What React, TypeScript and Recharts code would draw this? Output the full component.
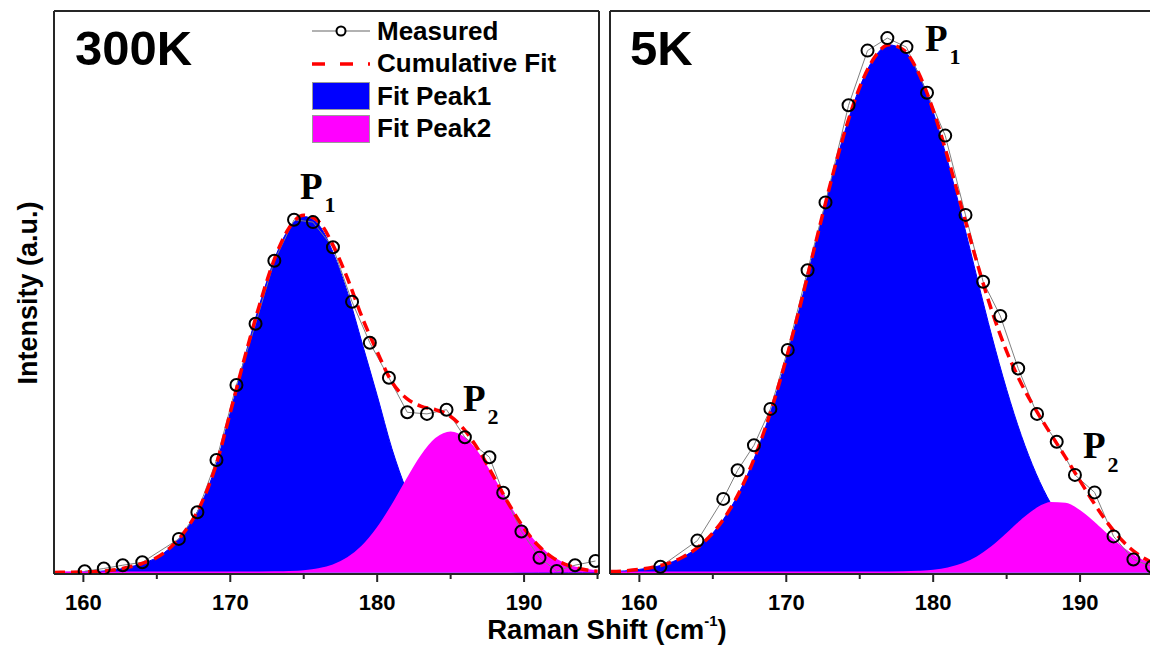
import React from 'react';
import { ComposedChart, Area, Line, XAxis, YAxis, Legend } from 'recharts';

const SANS = '"Liberation Sans", Arial, Helvetica, sans-serif';
const SERIF = '"Liberation Serif", "Times New Roman", serif';
const FRAME = '#262626';
const PEAK1_COLOR = '#0000ff';
const PEAK2_COLOR = '#ff00ff';
const FIT_COLOR = '#ff0000';
const MEASURED_LINE = '#808080';

// fitted curves, read every 1 cm-1
const shift = [
    158, 159, 160, 161, 162, 163, 164, 165, 166, 167, 168, 169, 170, 171, 172, 173, 174, 175, 176,
    177, 178, 179, 180, 181, 182, 183, 184, 185, 186, 187, 188, 189, 190, 191, 192, 193, 194, 195,
];

// 300K
const peak1_300K = [
    0.1, 0.2, 0.5, 1.1, 2.4, 5, 9, 15, 26, 43, 68, 106, 160, 216, 268, 313, 344, 356, 348,
    320, 279, 228, 177, 124, 82, 50, 29, 16, 8, 4, 2, 1, 0.4, 0.2, 0.1, 0, 0, 0,
];
const peak2_300K = [
    0, 0, 0, 0, 0, 0, 0, 0, 0, 0, 0, 0, 0, 0, 0.1, 0.2, 0.5, 1.3, 3.2,
    7.1, 14.3, 26.2, 43.8, 66.5, 92.1, 116.2, 133.6, 140, 133.6, 116.2, 92.1, 66.5, 43.8, 26.2, 14.3, 7.1, 3.2, 1.3,
];
const cumulative_300K = [
    0.1, 0.2, 0.5, 1.1, 2.4, 5, 9, 15, 26, 43, 68, 106, 160, 216, 268.1, 313.2, 344.5, 357.3, 351.2,
    327.1, 293.3, 254.2, 220.8, 190.5, 174.1, 166.2, 162.6, 156, 141.6, 120.2, 94.1, 67.5, 44.2, 26.4, 14.4, 7.1, 3.2, 1.3,
];
const measuredShift_300K = [
    160.09, 161.39, 162.68, 164.01, 166.5, 167.76, 169.06, 170.42, 171.72, 173.0, 174.34, 175.63, 176.99,
    178.29, 179.5, 180.8, 182.05, 183.39, 184.72, 185.97, 187.64, 188.58, 189.82, 191.05, 192.22, 193.47, 194.86,
];
const measured_300K = [
    1.3, 4, 7.3, 10.2, 33.6, 60.3, 112.5, 187.5, 248.7, 311.8, 352.7, 350.4, 325.2,
    270.7, 229.7, 194.7, 160.2, 158.6, 162.8, 135.2, 115.3, 79.8, 41, 14.7, 1.5, 7.3, 11.5,
];

// 5K
const peak1_5K = [
    0.9, 1.6, 3.1, 5.5, 9.4, 15.7, 25.4, 39.5, 59.4, 86.2, 121, 163.8, 214, 270, 329.7, 388.5, 441.7, 485.3, 514.9,
    527.6, 522.2, 499, 460.6, 410.6, 353.4, 293.8, 235.9, 183, 137, 99.1, 69.2, 46.7, 30.4, 19.1, 11.6, 6.8, 3.9, 2.1,
];
const peak2_5K = [
    0, 0, 0, 0, 0, 0, 0, 0, 0, 0, 0, 0, 0, 0, 0, 0, 0, 0, 0,
    0.1, 0.2, 0.7, 1.7, 4, 8.2, 15.2, 25.4, 38.2, 51.8, 63.2, 69.4, 68.7, 61.2, 49.1, 35.5, 23.1, 13.6, 7.2,
];
const cumulative_5K = [
    0.9, 1.6, 3.1, 5.5, 9.4, 15.7, 25.4, 39.5, 59.4, 86.2, 121, 163.8, 214, 270, 329.7, 388.5, 441.7, 485.3, 514.9,
    527.7, 522.4, 499.7, 462.3, 414.6, 361.6, 309, 261.3, 221.2, 188.8, 162.3, 138.6, 115.4, 91.6, 68.2, 47.1, 29.9, 17.5, 9.3,
];
const measuredShift_5K = [
    161.43, 163.95, 165.71, 166.69, 167.8, 168.92, 170.1, 171.45, 172.67, 174.24, 175.53, 176.88, 178.18,
    179.58, 180.82, 182.2, 183.4, 184.57, 185.79, 187.07, 188.41, 189.65, 190.99, 192.28, 193.63, 194.9,
];
const measured_5K = [
    5.7, 31.9, 73.6, 102.2, 127.2, 163.6, 222.6, 302.2, 370.1, 467.2, 521.9, 534.4, 525.4,
    479.7, 436.9, 357.6, 290.8, 256.5, 204, 158.6, 130.8, 97.6, 80.1, 36.1, 13, 6,
];

const shiftTicks = [160, 165, 170, 175, 180, 185, 190, 195];
const X_DOMAIN: [number, number] = [158, 195.1];
const Y_DOMAIN: [number, number] = [-1.5, 561.5];

const fitRows = (p1: number[], p2: number[], cum: number[]) =>
    shift.map((x, i) => ({ x, p1: p1[i], p2: p2[i], cum: cum[i] }));
const measuredRows = (xs: number[], ys: number[]) => xs.map((x, i) => ({ x, y: ys[i] }));

const legendItems = [
    { name: 'Measured', kind: 'measured' },
    { name: 'Cumulative Fit', kind: 'fit' },
    { name: 'Fit Peak1', kind: 'box', color: PEAK1_COLOR },
    { name: 'Fit Peak2', kind: 'box', color: PEAK2_COLOR },
];

function LegendContent() {
    return (
        <div style={{ fontFamily: SANS, fontWeight: 700, fontSize: 26, color: '#000' }}>
            {legendItems.map((item) => (
                <div key={item.name} style={{ display: 'flex', alignItems: 'center', height: 32.5 }}>
                    <svg width={58} height={30} style={{ marginRight: 7, flex: 'none' }}>
                        {item.kind === 'measured' && (
                            <>
                                <line x1={0} x2={58} y1={15} y2={15} stroke="#999" strokeWidth={1.5} />
                                <circle cx={29} cy={15} r={4.5} fill="#fff" stroke="#000" strokeWidth={2} />
                            </>
                        )}
                        {item.kind === 'fit' && (
                            <line x1={0} x2={58} y1={15} y2={15} stroke={FIT_COLOR} strokeWidth={3.5} strokeDasharray="13 15" />
                        )}
                        {item.kind === 'box' && (
                            <rect x={0.5} y={1.5} width={57} height={27} fill={item.color} stroke="#9a9a9a" strokeWidth={1} />
                        )}
                    </svg>
                    <span style={{ whiteSpace: 'nowrap' }}>{item.name}</span>
                </div>
            ))}
        </div>
    );
}

function ShiftTick(props: any) {
    const { x, y, payload } = props;
    const major = payload.value % 10 === 0;
    return (
        <g>
            <line x1={x} x2={x} y1={y} y2={y + (major ? 8 : 5)} stroke={FRAME} strokeWidth={2} />
            {major && (
                <text x={x} y={y + 35.5} textAnchor="middle" fontFamily={SANS} fontWeight={700} fontSize={22} fill="#000">
                    {payload.value}
                </text>
            )}
        </g>
    );
}

interface PanelProps {
    fit: { x: number; p1: number; p2: number; cum: number }[];
    measured: { x: number; y: number }[];
    showLegend?: boolean;
}

function Panel({ fit, measured, showLegend = false }: PanelProps) {
    const frame = { stroke: FRAME, strokeWidth: 2 };
    return (
        <ComposedChart width={600} height={647} data={fit} margin={{ top: 10, right: 0, bottom: 0, left: 53 }}>
            <XAxis
                dataKey="x"
                type="number"
                domain={X_DOMAIN}
                allowDataOverflow
                ticks={shiftTicks}
                interval={0}
                height={73}
                tickLine={false}
                tickSize={0}
                tickMargin={0}
                tick={(p: any) => <ShiftTick {...p} />}
                axisLine={frame}
            />
            <XAxis xAxisId="top" orientation="top" type="number" domain={X_DOMAIN} height={1} tick={false} tickLine={false} axisLine={frame} />
            <YAxis type="number" domain={Y_DOMAIN} allowDataOverflow width={1} tick={false} tickLine={false} axisLine={frame} />
            <YAxis yAxisId="right" orientation="right" type="number" domain={Y_DOMAIN} width={1} tick={false} tickLine={false} axisLine={frame} />
            <Area
                type="monotone"
                dataKey="p1"
                name="Fit Peak1"
                stroke={PEAK1_COLOR}
                strokeWidth={1}
                fill={PEAK1_COLOR}
                fillOpacity={1}
                dot={false}
                activeDot={false}
                isAnimationActive={false}
            />
            <Area
                type="monotone"
                dataKey="p2"
                name="Fit Peak2"
                stroke={PEAK2_COLOR}
                strokeWidth={2}
                fill={PEAK2_COLOR}
                fillOpacity={1}
                dot={false}
                activeDot={false}
                isAnimationActive={false}
            />
            <Line
                data={measured}
                type="linear"
                dataKey="y"
                name="Measured"
                stroke={MEASURED_LINE}
                strokeWidth={1}
                dot={{ r: 6, stroke: '#000', strokeWidth: 2, fill: 'none' }}
                activeDot={false}
                isAnimationActive={false}
            />
            <Line
                type="monotone"
                dataKey="cum"
                name="Cumulative Fit"
                stroke={FIT_COLOR}
                strokeWidth={3.5}
                strokeDasharray="11 6"
                dot={false}
                activeDot={false}
                isAnimationActive={false}
            />
            {showLegend && (
                <Legend
                    layout="vertical"
                    align="center"
                    verticalAlign="middle"
                    content={() => <LegendContent />}
                    wrapperStyle={{ left: 312, top: 15, width: 280 }}
                />
            )}
        </ComposedChart>
    );
}

function PeakLabel({ x, y, sub, dy }: { x: number; y: number; sub: string; dy: number }) {
    return (
        <text x={x} y={y} fontFamily={SERIF} fontWeight={700} fontSize={37} fill="#000">
            P
            <tspan dx={2} dy={dy} fontSize={22}>
                {sub}
            </tspan>
        </text>
    );
}

export default function App() {
    return (
        <div
            style={{
                position: 'fixed',
                left: 0,
                top: 0,
                width: 1150,
                height: 647,
                overflow: 'hidden',
                background: '#fff',
            }}
        >
            <div style={{ position: 'absolute', left: 0, top: 0 }}>
                <Panel fit={fitRows(peak1_300K, peak2_300K, cumulative_300K)} measured={measuredRows(measuredShift_300K, measured_300K)} showLegend />
            </div>
            <div style={{ position: 'absolute', left: 556, top: 0 }}>
                <Panel fit={fitRows(peak1_5K, peak2_5K, cumulative_5K)} measured={measuredRows(measuredShift_5K, measured_5K)} />
            </div>
            <svg width={1150} height={647} style={{ position: 'absolute', left: 0, top: 0, pointerEvents: 'none' }}>
                <text x={75} y={65} fontFamily={SANS} fontWeight={700} fontSize={49} fill="#000">
                    300K
                </text>
                <text x={630} y={65} fontFamily={SANS} fontWeight={700} fontSize={49} fill="#000">
                    5K
                </text>
                <PeakLabel x={300} y={199} sub="1" dy={13} />
                <PeakLabel x={463} y={411} sub="2" dy={13} />
                <PeakLabel x={925} y={51} sub="1" dy={13} />
                <PeakLabel x={1083} y={458} sub="2" dy={14} />
                <text
                    transform="translate(37, 293) rotate(-90)"
                    textAnchor="middle"
                    fontFamily={SANS}
                    fontWeight={700}
                    fontSize={27}
                    fill="#000"
                >
                    Intensity (a.u.)
                </text>
                <text x={607} y={639} textAnchor="middle" fontFamily={SANS} fontWeight={700} fontSize={27.5} fill="#000">
                    Raman Shift (cm
                    <tspan dy={-13} fontSize={15}>
                        -1
                    </tspan>
                    <tspan dy={13}>)</tspan>
                </text>
            </svg>
        </div>
    );
}
